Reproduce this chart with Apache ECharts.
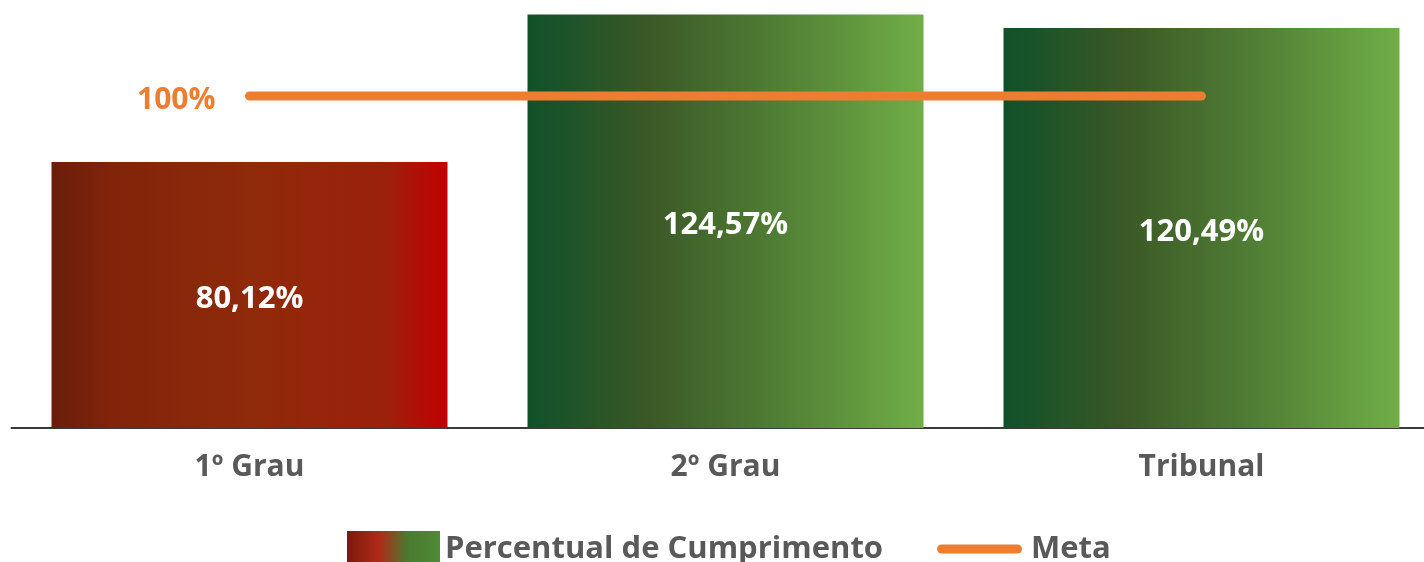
<!DOCTYPE html>
<html><head><meta charset="utf-8">
<script src="https://cdn.jsdelivr.net/npm/echarts@6/dist/echarts.min.js"></script>
<style>html,body{margin:0;padding:0;background:#fff}#c{width:1424px;height:562px}</style>
</head><body><div id="c"></div>
<script>
const categories = ['1º Grau', '2º Grau', 'Tribunal'];
const percentual = [80.12, 124.57, 120.49];
const meta = [100, 100, 100];
const seriesNames = ['Percentual de Cumprimento', 'Meta'];

const FONT = 'Open Sans';
function grad(stops) {
  return new echarts.graphic.LinearGradient(0, 0, 1, 0, stops.map(c => ({offset: c[0], color: c[1]})));
}
const redGrad = () => grad([[0, '#6A1E0B'], [0.15, '#81240A'], [0.5, '#8F2A0A'], [0.85, '#9C200A'], [1, '#C20000']]);
const greenGrad = () => grad([[0, '#10512A'], [0.3, '#3A5826'], [0.6, '#4E7A33'], [1, '#70AE47']]);
const barColors = [redGrad, greenGrad, greenGrad];
const fmt = v => v.toFixed(2).replace('.', ',') + '%';
// legend icon for Meta: thick rounded line centred in a 93x36 box
const lineIcon = 'path://M0,0 M93,36 M8.5,13.5 L84.5,13.5 A4.5,4.5 0 0 1 84.5,22.5 L8.5,22.5 A4.5,4.5 0 0 1 8.5,13.5 Z';

const chart = echarts.init(document.getElementById('c'));
chart.setOption({
  animation: false,
  textStyle: {fontFamily: FONT},
  grid: {left: 11.5, width: 1428, top: 0, bottom: 134, containLabel: false, outerBoundsMode: 'none'},
  legend: {
    top: 526, left: 342,
    itemWidth: 93, itemHeight: 36, itemGap: 50,
    textStyle: {fontFamily: FONT, fontSize: 31, fontWeight: 'bold', color: '#595959'},
    data: [
      {name: seriesNames[0], icon: 'rect', itemStyle: {color: grad([[0, '#7A1A0B'], [0.35, '#B02A18'], [0.65, '#4A7A30'], [1, '#4E8A35']])}},
      {name: seriesNames[1], icon: lineIcon, itemStyle: {color: '#ED7D31', borderWidth: 0}}
    ]
  },
  xAxis: {
    type: 'category', data: categories,
    axisLine: {lineStyle: {color: '#3A3A3A', width: 2}},
    axisTick: {show: false},
    axisLabel: {fontFamily: FONT, fontSize: 30, fontWeight: 'bold', color: '#595959', margin: 24}
  },
  yAxis: {type: 'value', min: 0, max: 128.9, show: false, splitLine: {show: false}},
  series: [
    {
      name: seriesNames[0], type: 'bar', barWidth: 396, z: 1,
      data: percentual.map((v, i) => ({value: v, itemStyle: {color: barColors[i]()}})),
      label: {show: true, position: 'inside', offset: [0, 4], formatter: p => fmt(p.value), fontFamily: FONT, fontSize: 31, fontWeight: 'bold', color: '#ffffff'}
    },
    {
      name: seriesNames[1], type: 'line', data: meta, symbol: 'none', z: 3,
      lineStyle: {color: '#ED7D31', width: 9, cap: 'round'},
      itemStyle: {color: '#ED7D31'},
      markPoint: {
        symbol: 'rect', symbolSize: 0,
        data: [{coord: [0, meta[0]], value: meta[0]}],
        label: {show: true, position: 'left', distance: 34, offset: [0, 4], formatter: p => p.value + '%', fontFamily: FONT, fontSize: 30, fontWeight: 'bold', color: '#ED7D31'}
      }
    }
  ]
});
</script></body></html>
